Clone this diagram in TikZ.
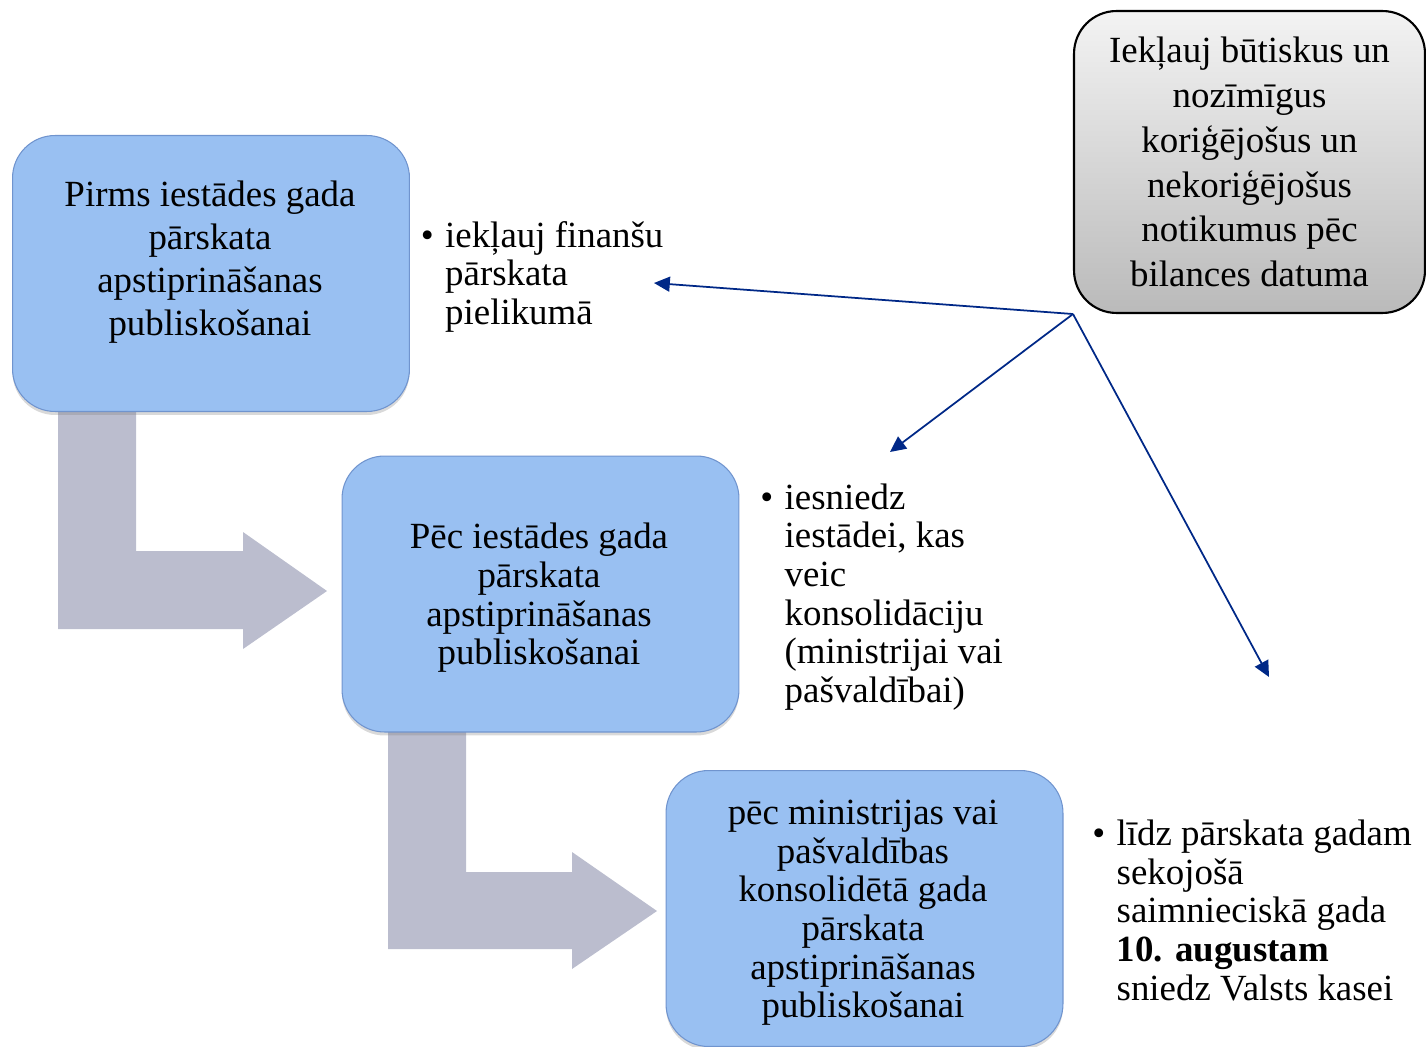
\documentclass[tikz,border=0pt]{standalone}
\usepackage{fontspec}
\setmainfont{Liberation Serif}
\usetikzlibrary{positioning,shadows,arrows.meta}

\definecolor{boxblue}{RGB}{153,192,242}
\definecolor{boxedge}{RGB}{112,148,206}
\definecolor{bendgray}{RGB}{187,189,206}
\definecolor{linkblue}{RGB}{0,40,135}
\definecolor{graytop}{RGB}{243,243,243}
\definecolor{graybot}{RGB}{186,186,186}

\begin{document}
\begin{tikzpicture}[x=0.02cm,y=-0.02cm,
  stage/.style={draw=boxedge, line width=0.6pt, fill=boxblue, rounded corners=0.85cm,
    minimum width=7.94cm, minimum height=5.52cm, inner sep=0pt,
    drop shadow={opacity=0.3, shadow xshift=0pt, shadow yshift=-2pt}},
  stagetext/.style={align=center, inner sep=0pt, font=\fontsize{21}{22}\selectfont},
  note/.style={inner sep=0pt, font=\fontsize{21}{22}\selectfont},
  bentarrow/.style={fill=bendgray},
  link/.style={draw=linkblue, line width=1pt, -{Triangle[length=9pt,width=8.5pt]}}]
\useasboundingbox (0,0) rectangle (1426,1047);

% bent arrows
\fill[bentarrow] (58,400) -- (136,400) -- (136,551) -- (243,551) -- (243,532) -- (327,591)
  -- (243,649) -- (243,629) -- (58,629) -- cycle;
\fill[bentarrow] (388,720) -- (466,720) -- (466,872) -- (572,872) -- (572,852) -- (657,911)
  -- (572,969) -- (572,949) -- (388,949) -- cycle;

% stages
\node[stage] (b1) at (211,273.5) {};
\node[stage] (b2) at (540.5,594) {};
\node[stage] (b3) at (864.5,908.5) {};
\node[stagetext, font=\fontsize{21}{24.4}\selectfont] (t1) at (210,262)
  {Pirms iestādes gada\\pārskata\\apstiprināšanas\\publiskošanai};
\node[stagetext] (t2) at (539,598) {Pēc iestādes gada\\pārskata\\apstiprināšanas\\publiskošanai};
\node[stagetext] (t3) at (863,913) {pēc ministrijas vai\\pašvaldības\\konsolidētā gada\\pārskata\\apstiprināšanas\\publiskošanai};

% notes
\node[note, right=0.21cm of b1, yshift=-0.09cm] (n1) {\begin{tabular}{@{}l@{\hspace{6.5pt}}l@{}}
  \textbullet & iekļauj finanšu\\ & pārskata\\ & pielikumā\end{tabular}};
\node[note, right=0.41cm of b2, yshift=-0.08cm] (n2) {\begin{tabular}{@{}l@{\hspace{6.5pt}}l@{}}
  \textbullet & iesniedz\\ & iestādei, kas\\ & veic\\ & konsolidāciju\\
  & (ministrijai vai\\ & pašvaldībai)\end{tabular}};
\node[note, right=0.57cm of b3, yshift=-0.13cm] (n3) {\begin{tabular}{@{}l@{\hspace{6.5pt}}l@{}}
  \textbullet & līdz pārskata gadam\\ & sekojošā\\ & saimnieciskā gada\\
  & \textbf{10. augustam}\\ & sniedz Valsts kasei\end{tabular}};

% events box
\node[draw=black, line width=1.2pt, rounded corners=0.85cm, top color=graytop, bottom color=graybot,
  minimum width=7.02cm, minimum height=6.04cm, align=center, font=\fontsize{21}{25.5}\selectfont]
  (g) at (1249.5,162) {Iekļauj būtiskus un\\nozīmīgus\\koriģējošus un\\nekoriģējošus\\notikumus pēc\\bilances datuma};

% links
\coordinate (tip1) at (654,283);
\coordinate (tip2) at (890,452);
\coordinate (tip3) at (1269,677);
\foreach \t in {tip1,tip2,tip3}
  \draw[link] (g.south west) -- (\t);
\end{tikzpicture}
\end{document}
